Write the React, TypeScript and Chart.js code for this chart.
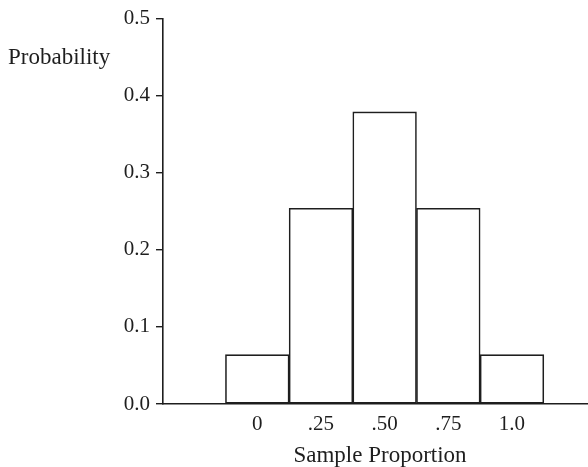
import React, { useEffect, useRef } from "react";
import { Chart, registerables } from "chart.js";

Chart.register(...registerables);

const categories = [0, 0.25, 0.5, 0.75, 1.0];
const xTickLabels = ["0", ".25", ".50", ".75", "1.0"];
const probabilities = [0.064, 0.254, 0.379, 0.254, 0.064];
const yTicks = [0, 0.1, 0.2, 0.3, 0.4, 0.5];
const yTickLabels = ["0.0", "0.1", "0.2", "0.3", "0.4", "0.5"];
const yTitle = "Probability";
const xTitle = "Sample Proportion";

const FONT = "'Liberation Serif', 'Times New Roman', serif";
const INK = "#1e1e1e";

export default function App() {
  const ref = useRef<HTMLCanvasElement | null>(null);

  useEffect(() => {
    const canvas = ref.current;
    if (!canvas) return;
    document.body.style.margin = "0";

    const titles = {
      id: "freeTitles",
      afterDraw(chart: any) {
        const ctx = chart.ctx;
        ctx.save();
        ctx.fillStyle = INK;
        ctx.font = `23px ${FONT}`;
        ctx.textBaseline = "alphabetic";
        ctx.textAlign = "left";
        ctx.fillText(yTitle, 8, 64);
        ctx.textAlign = "center";
        ctx.fillText(xTitle, 380, 462);
        ctx.restore();
      },
    };

    const chart = new Chart(canvas, {
      type: "bar",
      data: {
        datasets: [
          {
            data: categories.map((c, i) => ({ x: c, y: probabilities[i] })),
            backgroundColor: "#ffffff",
            borderColor: INK,
            borderWidth: 1.6,
            borderSkipped: false,
            barPercentage: 1,
            categoryPercentage: 1,
          },
        ],
      },
      options: {
        animation: false,
        responsive: false,
        maintainAspectRatio: false,
        layout: { padding: { left: 0, right: 0, top: 16, bottom: 0 } },
        plugins: {
          legend: { display: false },
          tooltip: { enabled: false },
        },
        scales: {
          x: {
            type: "linear",
            offset: false,
            min: -0.3702,
            max: 1.2985,
            grid: { display: false, offset: false },
            border: { display: true, color: INK, width: 1.6 },
            afterBuildTicks: (s: any) => {
              s.ticks = categories.map((v) => ({ value: v }));
            },
            afterFit: (s: any) => {
              s.height = 467 - 404;
            },
            ticks: {
              autoSkip: false,
              maxRotation: 0,
              padding: 0,
              color: INK,
              font: { family: FONT, size: 21 },
              callback: (v: any) => {
                const i = categories.findIndex((c) => Math.abs(c - Number(v)) < 1e-6);
                return i >= 0 ? xTickLabels[i] : "";
              },
            },
          },
          y: {
            type: "linear",
            min: 0,
            max: 0.5,
            grid: {
              display: true,
              drawOnChartArea: false,
              drawTicks: true,
              tickLength: 7,
              tickColor: INK,
              lineWidth: 1.4,
            },
            border: { display: true, color: INK, width: 1.6 },
            afterBuildTicks: (s: any) => {
              s.ticks = yTicks.map((v) => ({ value: v }));
            },
            afterFit: (s: any) => {
              s.width = 163;
            },
            ticks: {
              padding: 6,
              color: INK,
              font: { family: FONT, size: 21 },
              callback: (v: any) => {
                const i = yTicks.findIndex((c) => Math.abs(c - Number(v)) < 1e-6);
                return i >= 0 ? yTickLabels[i] : "";
              },
            },
          },
        },
      },
      plugins: [titles],
    });

    return () => chart.destroy();
  }, []);

  return (
    <div style={{ position: "absolute", left: 0, top: 0, width: 588, height: 467, background: "#fff" }}>
      <canvas ref={ref} width={588} height={467} style={{ display: "block", width: 588, height: 467 }} />
    </div>
  );
}
